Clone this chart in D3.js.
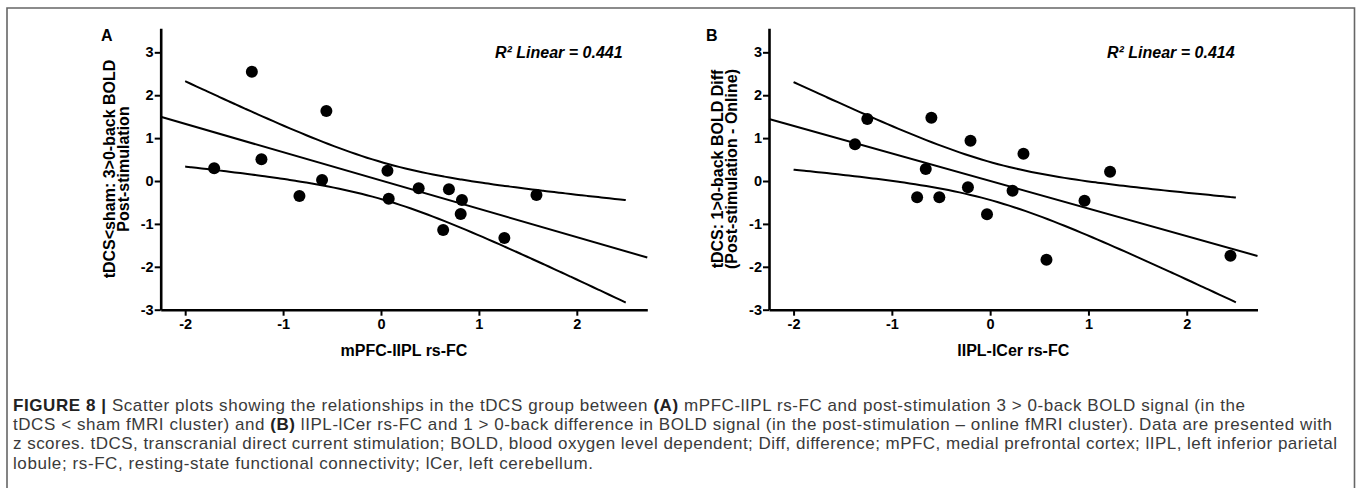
<!DOCTYPE html>
<html><head><meta charset="utf-8">
<script src="https://cdn.jsdelivr.net/npm/d3@7"></script>
<style>body{margin:0;background:#fff}</style>
</head><body>
<svg id="c" width="1357" height="498"></svg>
<script>
// ---- data ----
const xTicks = [-2, -1, 0, 1, 2];
const yTicks = [-3, -2, -1, 0, 1, 2, 3];
const xDomain = [-2.25, 2.72];
const yDomain = [-3, 3.56];
const ciExtent = [-2, 2.5];

const panelA_x = [-1.704, -1.319, -1.221, -0.833, -0.602, -0.558, 0.066, 0.079, 0.385, 0.694, 0.827, 0.814, 0.635, 1.260, 1.588];
const panelA_y = [0.296, 2.548, 0.505, -0.350, 0.023, 1.632, 0.240, -0.412, -0.171, -0.194, -0.443, -0.769, -1.142, -1.329, -0.326];

const panelB_x = [-1.375, -1.250, -0.655, -0.598, -0.743, -0.517, -0.226, -0.200, -0.032, 0.228, 0.339, 0.573, 0.960, 1.220, 2.445];
const panelB_y = [0.855, 1.445, 0.280, 1.476, -0.380, -0.380, -0.147, 0.939, -0.776, -0.226, 0.636, -1.834, -0.460, 0.215, -1.740];

const panelLetters = ["A", "B"];
const xTitles = ["mPFC-lIPL rs-FC", "lIPL-lCer rs-FC"];
const yTitles = [["tDCS<sham: 3>0-back BOLD", "Post-stimulation"],
                 ["tDCS: 1>0-back BOLD Diff", "(Post-stimulation - Online)"]];
const r2Labels = ["R² Linear = 0.441", "R² Linear = 0.414"];

const captionLines = [
  [["FIGURE 8 | ", true], ["Scatter plots showing the relationships in the tDCS group between ", false], ["(A)", true], [" mPFC-lIPL rs-FC and post-stimulation 3 > 0-back BOLD signal (in the", false]],
  [["tDCS < sham fMRI cluster) and ", false], ["(B)", true], [" lIPL-lCer rs-FC and 1 > 0-back difference in BOLD signal (in the post-stimulation – online fMRI cluster). Data are presented with", false]],
  [["z scores. tDCS, transcranial direct current stimulation; BOLD, blood oxygen level dependent; Diff, difference; mPFC, medial prefrontal cortex; lIPL, left inferior parietal", false]],
  [["lobule; rs-FC, resting-state functional connectivity; lCer, left cerebellum.", false]]
];

// ---- layout ----
const panels = [
  {xs: panelA_x, ys: panelA_y, x0: 160.7, x1: 647.3, letterX: 101, r2X: 495, yt: [115, 128.5]},
  {xs: panelB_x, ys: panelB_y, x0: 769, x1: 1257.5, letterX: 706, r2X: 1107, yt: [723, 736.5]}
];
const yTop = 28.3, yBot = 309.7;
const font = "'Liberation Sans', Arial, Helvetica, sans-serif";

const svg = d3.select("#c");
svg.append("rect").attr("width", 1357).attr("height", 498).attr("fill", "#fff");

// frame
svg.append("path").attr("d", "M7,488 L7,8 L1354.5,8 L1354.5,488")
  .attr("fill", "none").attr("stroke", "#666").attr("stroke-width", 1.6);

function fit(xs, ys) {
  const n = xs.length;
  const mx = d3.mean(xs), my = d3.mean(ys);
  let sxx = 0, sxy = 0;
  for (let i = 0; i < n; i++) { sxx += (xs[i] - mx) ** 2; sxy += (xs[i] - mx) * (ys[i] - my); }
  const b = sxy / sxx, a = my - b * mx;
  let ss = 0;
  for (let i = 0; i < n; i++) ss += (ys[i] - a - b * xs[i]) ** 2;
  const s = Math.sqrt(ss / (n - 2));
  return {a, b, s, mx, sxx, n};
}
const tCrit = 2.1604; // t(0.975, df = 13)

panels.forEach((p, k) => {
  const x = d3.scaleLinear().domain(xDomain).range([p.x0, p.x1]);
  const y = d3.scaleLinear().domain(yDomain).range([yBot, yTop]);
  const g = svg.append("g");

  // axes
  const ax = g.append("g").attr("transform", `translate(0,${yBot})`)
    .call(d3.axisBottom(x).tickValues(xTicks).tickFormat(d => String(d)).tickSize(6).tickSizeOuter(0).tickPadding(3));
  const ay = g.append("g").attr("transform", `translate(${p.x0},0)`)
    .call(d3.axisLeft(y).tickValues(yTicks).tickFormat(d => String(d)).tickSize(6).tickSizeOuter(0).tickPadding(1));
  [ax, ay].forEach(a => {
    a.select(".domain").attr("stroke", "#000").attr("stroke-width", 2.6);
    a.selectAll(".tick line").attr("stroke", "#000").attr("stroke-width", 2);
    a.selectAll(".tick text").attr("fill", "#000").style("font-family", font)
      .style("font-size", "14.5px").style("font-weight", "bold");
  });

  // regression + CI
  const f = fit(p.xs, p.ys);
  const line = d3.line().x(d => x(d[0])).y(d => y(d[1]));
  g.append("path").attr("d", line([[xDomain[0], f.a + f.b * xDomain[0]], [xDomain[1], f.a + f.b * xDomain[1]]]))
    .attr("fill", "none").attr("stroke", "#000").attr("stroke-width", 2);
  const xsCI = d3.range(ciExtent[0], ciExtent[1] + 1e-9, (ciExtent[1] - ciExtent[0]) / 80);
  [1, -1].forEach(sg => {
    const pts = xsCI.map(v => {
      const se = f.s * Math.sqrt(1 / f.n + (v - f.mx) ** 2 / f.sxx);
      return [v, f.a + f.b * v + sg * tCrit * se];
    });
    g.append("path").attr("d", d3.line().curve(d3.curveBasis).x(d => x(d[0])).y(d => y(d[1]))(pts))
      .attr("fill", "none").attr("stroke", "#000").attr("stroke-width", 2);
  });

  // points
  g.selectAll("circle.pt").data(p.xs.map((v, i) => [v, p.ys[i]])).join("circle")
    .attr("class", "pt").attr("cx", d => x(d[0])).attr("cy", d => y(d[1])).attr("r", 6).attr("fill", "#000");

  // titles
  g.append("text").attr("x", (p.x0 + p.x1) / 2).attr("y", 355.5).attr("text-anchor", "middle")
    .style("font-family", font).style("font-size", "16px").style("font-weight", "bold").text(xTitles[k]);
  yTitles[k].forEach((t, j) => {
    g.append("text").attr("transform", `translate(${p.yt[j]},${(yTop + yBot) / 2}) rotate(-90)`)
      .attr("text-anchor", "middle").style("font-family", font).style("font-size", "16px")
      .style("font-weight", "bold").text(t);
  });
  g.append("text").attr("x", p.letterX).attr("y", 41).style("font-family", font)
    .style("font-size", "16px").style("font-weight", "bold").text(panelLetters[k]);
  g.append("text").attr("x", p.r2X).attr("y", 58.3).style("font-family", font)
    .style("font-size", "16px").style("font-weight", "bold").style("font-style", "italic").text(r2Labels[k]);
});

// caption
const capBase = [411, 430.2, 449.4, 468.6];
const capLen = [1232, 1319, 1324, 580];
captionLines.forEach((ln, i) => {
  const t = svg.append("text").attr("x", 13).attr("y", capBase[i])
    .style("font-family", font).style("font-size", "17px").attr("fill", "#3a3a3a")
    .attr("textLength", capLen[i]).attr("lengthAdjust", "spacing");
  ln.forEach(([s, b]) => {
    t.append("tspan").text(s).style("font-weight", b ? "bold" : "normal").attr("fill", b ? "#222" : "#3a3a3a");
  });
});
</script>
</body></html>
